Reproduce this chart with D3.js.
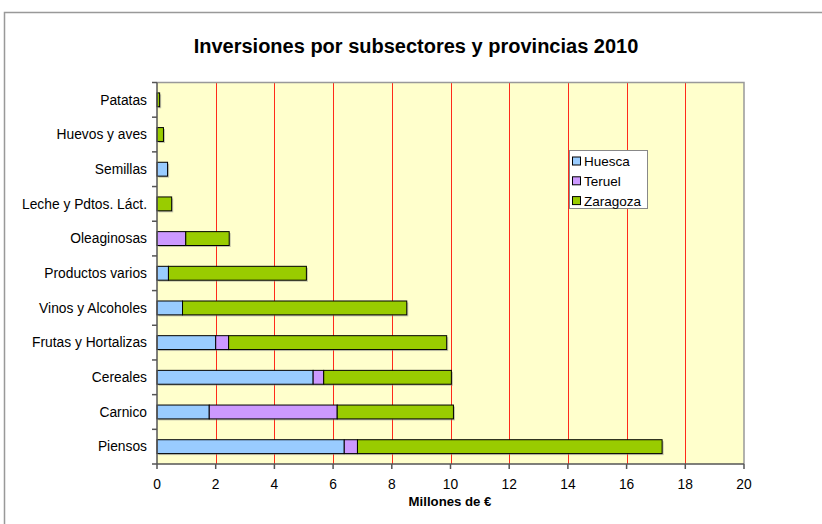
<!DOCTYPE html>
<html><head><meta charset="utf-8">
<script src="https://cdn.jsdelivr.net/npm/d3@7"></script>
<style>body{margin:0;background:#fff}svg{display:block}text{font-family:"Liberation Sans",Arial,sans-serif}</style>
</head><body>
<script>
const categories = ["Piensos","Carnico","Cereales","Frutas y Hortalizas","Vinos y Alcoholes","Productos varios","Oleaginosas","Leche y Pdtos. Láct.","Semillas","Huevos y aves","Patatas"];
const huesca   = [6.38, 1.78, 5.32, 2.00, 0.87, 0.39, 0,    0,    0.36, 0,    0];
const teruel   = [0.45, 4.36, 0.36, 0.44, 0,    0,    0.98, 0,    0,    0,    0];
const zaragoza = [10.38,3.96, 4.35, 7.43, 7.64, 4.70, 1.48, 0.50, 0,    0.22, 0.09];
const seriesNames = ["Huesca","Teruel","Zaragoza"];
const seriesColors = ["#99ccff","#cc99ff","#99cc00"];
const xTicks = [0,2,4,6,8,10,12,14,16,18,20];

const W = 822, H = 524;
const svg = d3.select("body").append("svg").attr("width", W).attr("height", H);
svg.append("rect").attr("x",4.5).attr("y",12.5).attr("width",830).attr("height",530)
  .attr("fill","#fff").attr("stroke","#999").attr("stroke-width",1.5);

const L = 157, R = 744, T = 82.5, B = 464;
const x = d3.scaleLinear().domain([0,20]).range([L,R]);
const y = d3.scaleBand().domain(categories.slice().reverse()).range([T,B]).paddingInner(0.6).paddingOuter(0.3);
const yb = d3.scaleBand().domain(categories.slice().reverse()).range([T,B]);

svg.append("rect").attr("x",L).attr("y",T).attr("width",R-L).attr("height",B-T).attr("fill","#ffffcc");
svg.selectAll("line.grid").data(xTicks.slice(1,-1)).enter().append("line")
  .attr("x1",d=>Math.round(x(d))+0.5).attr("x2",d=>Math.round(x(d))+0.5).attr("y1",T).attr("y2",B)
  .attr("stroke","#ff2a1a").attr("stroke-width",1);
svg.append("path").attr("d",`M${L},${T}H${R}V${B}`).attr("fill","none").attr("stroke","#999").attr("stroke-width",1.5);

const rows = categories.map((c,i)=>({c, v:[huesca[i],teruel[i],zaragoza[i]]}));
const stack = d3.stack().keys([0,1,2]).value((d,k)=>d.v[k]);
const stacked = stack(rows);

const g = svg.append("g");
stacked.forEach((s,k)=>{
  g.selectAll(null).data(s.filter(d=>d[1]-d[0]>0)).enter().append("rect")
    .attr("x",d=>x(d[0])+1.5).attr("y",d=>y(d.data.c)+1.5)
    .attr("width",d=>x(d[1])-x(d[0])).attr("height",y.bandwidth())
    .attr("fill","#888").attr("opacity",0.5);
});
stacked.forEach((s,k)=>{
  g.selectAll(null).data(s.filter(d=>d[1]-d[0]>0)).enter().append("rect")
    .attr("x",d=>x(d[0])).attr("y",d=>y(d.data.c))
    .attr("width",d=>x(d[1])-x(d[0])).attr("height",y.bandwidth())
    .attr("fill",seriesColors[k]).attr("stroke","#000").attr("stroke-width",1);
});

const yAxis = svg.append("g").attr("transform",`translate(${L},0)`);
yAxis.append("line").attr("x1",0).attr("x2",0).attr("y1",T).attr("y2",B).attr("stroke","#555").attr("stroke-width",1.5);
const bounds = categories.map(c=>yb(c)).concat([B]);
yAxis.selectAll(null).data(bounds).enter().append("line")
  .attr("x1",-5).attr("x2",0).attr("y1",d=>d).attr("y2",d=>d).attr("stroke","#555").attr("stroke-width",1.5);
yAxis.selectAll(null).data(categories).enter().append("text")
  .attr("x",-10).attr("y",c=>yb(c)+yb.bandwidth()/2).attr("dy","0.35em")
  .attr("text-anchor","end").attr("font-size",13.8).attr("fill","#000").text(c=>c);

const xAxis = svg.append("g");
xAxis.append("line").attr("x1",L).attr("x2",R).attr("y1",B).attr("y2",B).attr("stroke","#555").attr("stroke-width",1.5);
xAxis.selectAll(null).data(xTicks).enter().append("line")
  .attr("x1",d=>x(d)).attr("x2",d=>x(d)).attr("y1",B).attr("y2",B+5).attr("stroke","#555").attr("stroke-width",1.5);
xAxis.selectAll(null).data(xTicks).enter().append("text")
  .attr("x",d=>x(d)).attr("y",484).attr("dy","0.35em").attr("text-anchor","middle")
  .attr("font-size",13.8).text(d=>d);

svg.append("text").attr("x",450).attr("y",506).attr("text-anchor","middle")
  .attr("font-size",13.2).attr("font-weight","bold").text("Millones de €");
svg.append("text").attr("x",416).attr("y",52.5).attr("text-anchor","middle")
  .attr("font-size",20).attr("font-weight","bold").text("Inversiones por subsectores y provincias 2010");

const lg = svg.append("g");
lg.append("rect").attr("x",569.5).attr("y",150.5).attr("width",78).attr("height",58)
  .attr("fill","#fff").attr("stroke","#888").attr("stroke-width",1);
seriesNames.forEach((n,i)=>{
  const cy = 161.5 + i*19.8;
  lg.append("rect").attr("x",572.5).attr("y",cy-4.5).attr("width",8).attr("height",8)
    .attr("fill",seriesColors[i]).attr("stroke","#000");
  lg.append("text").attr("x",584).attr("y",cy).attr("dy","0.35em").attr("font-size",13.5).text(n);
});
</script>
</body></html>
